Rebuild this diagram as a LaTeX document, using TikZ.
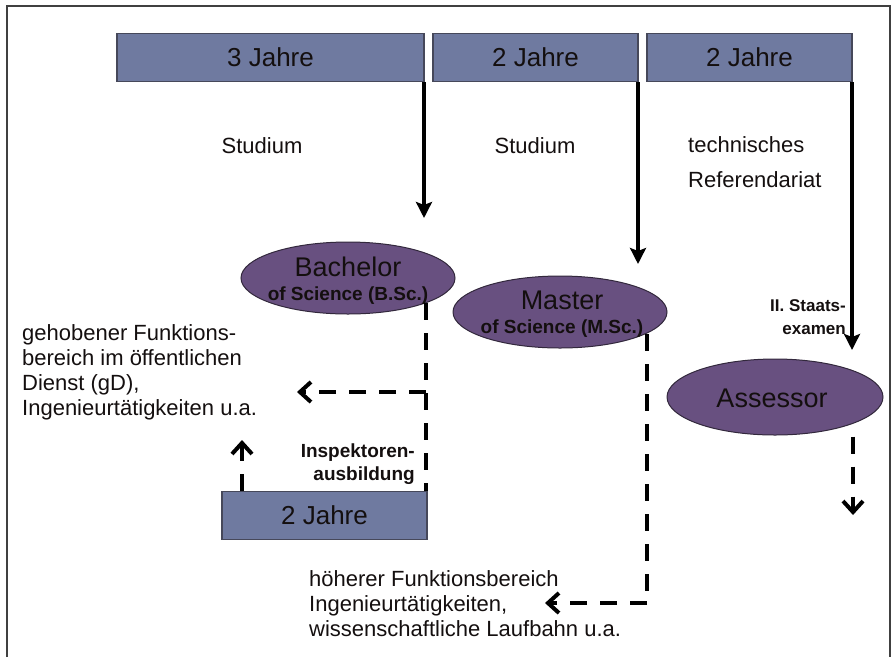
\documentclass[tikz,border=0pt]{standalone}
\usepackage{fontspec}
\setmainfont{Liberation Sans}
\usetikzlibrary{arrows.meta,shapes.geometric}
\definecolor{boxblue}{RGB}{111,122,160}
\definecolor{boxedge}{RGB}{70,72,90}
\definecolor{ellpurple}{RGB}{104,80,128}
\definecolor{elledge}{RGB}{50,40,60}
\definecolor{txt}{RGB}{20,15,15}
\tikzset{
  yearbox/.style={draw=boxedge, line width=1.5pt, fill=boxblue, inner sep=0pt,
    text=txt, font=\fontsize{26}{28}\selectfont},
  degree/.style={ellipse, draw=elledge, line width=1pt, fill=ellpurple, inner sep=0pt,
    minimum width=214pt, minimum height=72pt},
  bigtxt/.style={text=txt, font=\fontsize{27}{29}\selectfont, inner sep=0pt},
  subtxt/.style={text=txt, font=\bfseries\fontsize{19}{21}\selectfont, inner sep=0pt},
  lbl/.style={text=txt, font=\fontsize{22}{25}\selectfont, inner sep=0pt, align=left},
  smallbold/.style={text=txt, font=\bfseries\fontsize{17}{23}\selectfont, inner sep=0pt, align=right},
  solidarrow/.style={line width=3.5pt, -{Stealth[length=16pt,width=16pt,inset=3pt]}},
  dashline/.style={line width=4pt, dash pattern=on 17pt off 13pt},
  dasharrow/.style={dashline, -{Straight Barb[length=11pt,width=20pt,line width=4pt]}},
}
\begin{document}
\begin{tikzpicture}[x=1pt,y=-1pt]
\useasboundingbox (0,0) rectangle (893,657);
% frame
\draw[line width=1.6pt, black!75] (7,657) -- (7,6) -- (890,6) -- (890,657);

% top boxes
\node[yearbox, minimum width=307pt, minimum height=48pt] (box1) at (270.5,57.5) {3 Jahre};
\node[yearbox, minimum width=205pt, minimum height=48pt] (box2) at (535.5,57.5) {2 Jahre};
\node[yearbox, minimum width=205pt, minimum height=48pt] (box3) at (749.5,57.5) {2 Jahre};

% labels
\node[lbl] (stud1) at (262,146) {Studium};
\node[lbl] (stud2) at (535,146) {Studium};
\node[lbl, anchor=west] (ref) at (688,162) {technisches\\[10pt]Referendariat};

% ellipses
\node[degree] (bach) at (348,278) {};
\node[bigtxt] (bacht) at (348,267) {Bachelor};
\node[subtxt] (bachs) at (348,296) {of Science (B.Sc.)};

\node[degree] (mast) at (560,312) {};
\node[bigtxt] (mastt) at (562,300) {Master};
\node[subtxt] (masts) at (562,329) {of Science (M.Sc.)};

\node[degree, minimum width=216pt, minimum height=76pt] (ass) at (775,397) {};
\node[bigtxt] (asst) at (772,398) {Assessor};

% lower box
\node[yearbox, minimum width=205pt, minimum height=48pt] (box4) at (324.5,515.5) {2 Jahre};

% text labels
\node[lbl, anchor=north west] (gd) at (22,324) {gehobener Funktions-\\bereich im öffentlichen\\Dienst (gD),\\Ingenieurtätigkeiten u.a.};
\node[lbl, anchor=north west] (hd) at (309,570) {höherer Funktionsbereich\\Ingenieurtätigkeiten,\\wissenschaftliche Laufbahn u.a.};
\node[smallbold, font=\bfseries\fontsize{19}{23}\selectfont, anchor=north east] (insp) at (415,444) {Inspektoren-\\ausbildung};
\node[smallbold, anchor=north east] (staat) at (846,299) {II. Staats-\\examen};

% solid arrows
\coordinate (t1) at (424,218);
\coordinate (t2) at (638,264);
\coordinate (t3) at (852,350);
\draw[solidarrow] (box1.south east -| t1) -- (t1);
\draw[solidarrow] (box2.south east -| t2) -- (t2);
\draw[solidarrow] (box3.south east -| t3) -- (t3);

% dashed connectors
\coordinate (b0) at (426,303);
\coordinate (b1) at (426,392);
\coordinate (b2) at (297,392);
\draw[dashline] (b0) -- (box4.north east -| b0);
\draw[dasharrow] (b1) -- (b2);

\coordinate (u0) at (242,440);
\draw[dasharrow] (box4.north -| u0) -- (u0);

\coordinate (m0) at (647,334);
\coordinate (m1) at (647,603);
\coordinate (m2) at (545,603);
\draw[dashline] (m0) -- (m1);
\draw[dasharrow] (m1) -- (m2);

\coordinate (a1) at (853,515);
\draw[dasharrow] (ass.south -| a1) ++(0,1) -- (a1);
\end{tikzpicture}
\end{document}
